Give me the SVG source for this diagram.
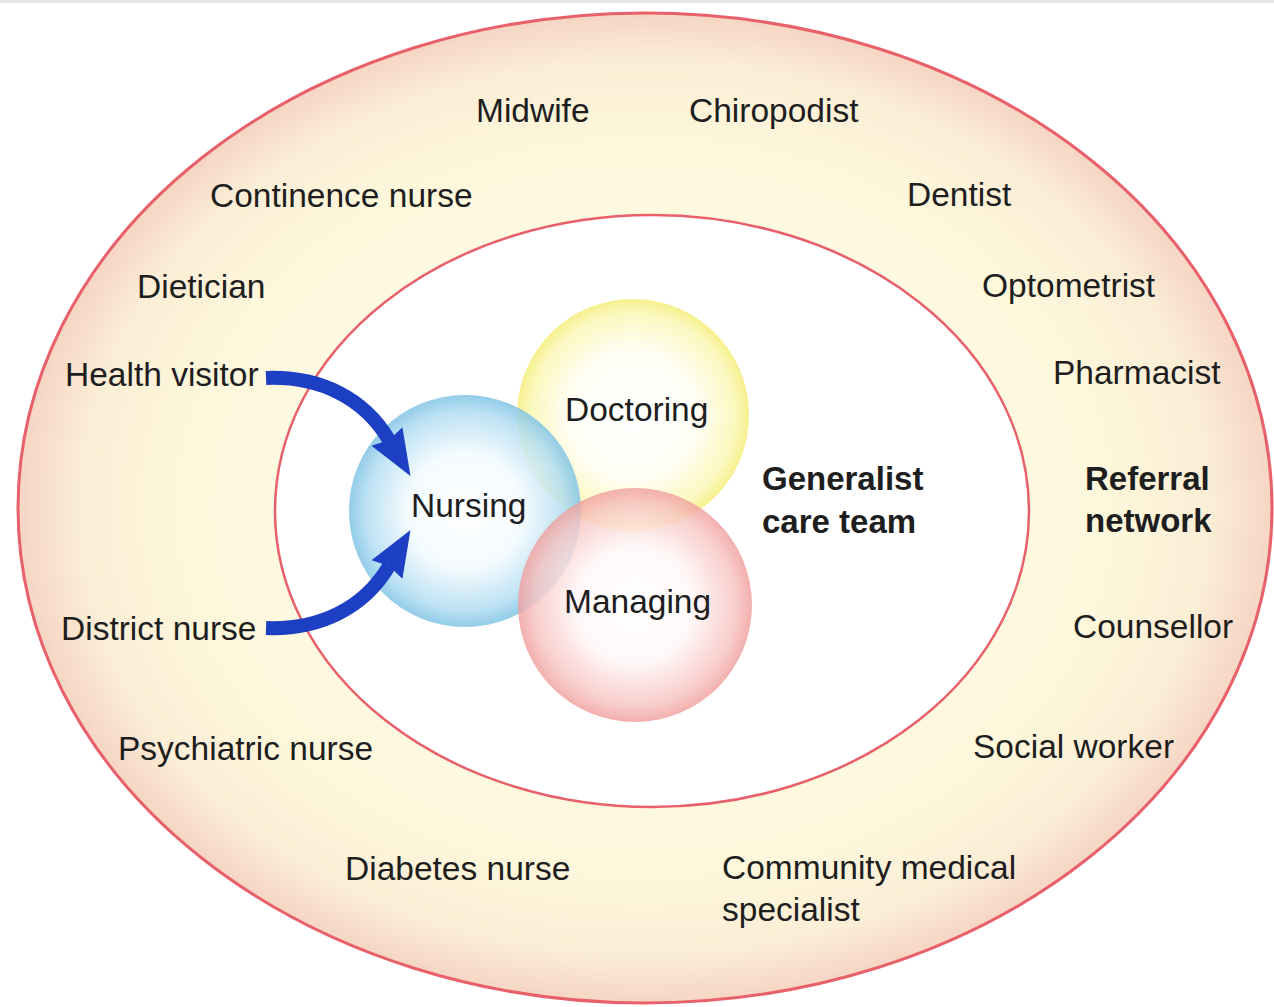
<svg xmlns="http://www.w3.org/2000/svg" width="1274" height="1007" viewBox="0 0 1274 1007">
<defs>
<radialGradient id="gOuter" cx="0.5" cy="0.5" r="0.5">
<stop offset="0" stop-color="#fffdf0"/>
<stop offset="0.72" stop-color="#fdf8dc"/>
<stop offset="0.9" stop-color="#fbeed6"/>
<stop offset="1" stop-color="#f6d5c4"/>
</radialGradient>
<radialGradient id="gBlue" cx="0.5" cy="0.5" r="0.5">
<stop offset="0" stop-color="#ffffff"/>
<stop offset="0.5" stop-color="#f2fafe"/>
<stop offset="0.85" stop-color="#b2ddf2"/>
<stop offset="1" stop-color="#80c3e5"/>
</radialGradient>
<radialGradient id="gYellow" cx="0.5" cy="0.5" r="0.5">
<stop offset="0" stop-color="#ffffff"/>
<stop offset="0.55" stop-color="#fffef4"/>
<stop offset="0.88" stop-color="#fbf7b8"/>
<stop offset="1" stop-color="#f5ee80"/>
</radialGradient>
<radialGradient id="gRed" cx="0.5" cy="0.5" r="0.5">
<stop offset="0" stop-color="#ffffff"/>
<stop offset="0.5" stop-color="#fff6f6"/>
<stop offset="0.85" stop-color="#f7c4c2"/>
<stop offset="1" stop-color="#ef9f9e"/>
</radialGradient>
<marker id="head" markerUnits="userSpaceOnUse" markerWidth="48" markerHeight="38" refX="4" refY="19" orient="auto" viewBox="0 0 48 38">
<path d="M0,1 L46,19 L0,37 L4,19 z" fill="#1d3fc4"/>
</marker>
<style>
.t{font-family:"Liberation Sans",Arial,sans-serif;font-size:33.5px;fill:#1e1e1e}
.b{font-family:"Liberation Sans",Arial,sans-serif;font-size:33px;font-weight:bold;fill:#1e1e1e}
.ring{stroke:#e8606a;stroke-width:3}
.arr{fill:none;stroke:#1d3fc4;stroke-width:14;marker-end:url(#head)}
</style>
</defs>
<rect x="0" y="0" width="1274" height="1007" fill="#ffffff"/>
<rect x="0" y="0" width="1274" height="3" fill="#e6e6e6"/>

<g id="referral-network">
<ellipse cx="645" cy="508" rx="627" ry="495" fill="url(#gOuter)" class="ring"/>
<text class="b" x="1085" y="490">Referral</text>
<text class="b" x="1085" y="532">network</text>
</g>
<g id="generalist-care-team">
<ellipse cx="652" cy="511" rx="377" ry="296" fill="#ffffff" class="ring" style="stroke-width:2.5"/>
<text class="b" x="762" y="490">Generalist</text>
<text class="b" x="762" y="533">care team</text>
</g>

<g id="doctoring">
<circle cx="633" cy="415" r="116" fill="url(#gYellow)" opacity="0.9"/>
<text class="t" x="565" y="421">Doctoring</text>
</g>
<g id="nursing">
<circle cx="465" cy="511" r="116" fill="url(#gBlue)" opacity="0.85"/>
</g>
<g id="managing">
<circle cx="635" cy="605" r="117" fill="url(#gRed)" opacity="0.82"/>
<text class="t" x="564" y="613">Managing</text>
</g>
<text class="t" x="411" y="517">Nursing</text>

<g id="midwife"><text class="t" x="476" y="122">Midwife</text></g>
<g id="chiropodist"><text class="t" x="689" y="122">Chiropodist</text></g>
<g id="continence-nurse"><text class="t" x="210" y="207">Continence nurse</text></g>
<g id="dentist"><text class="t" x="907" y="206">Dentist</text></g>
<g id="dietician"><text class="t" x="137" y="298">Dietician</text></g>
<g id="optometrist"><text class="t" x="982" y="297">Optometrist</text></g>
<g id="health-visitor"><text class="t" x="65" y="386">Health visitor</text></g>
<g id="pharmacist"><text class="t" x="1053" y="384">Pharmacist</text></g>
<g id="district-nurse"><text class="t" x="61" y="640">District nurse</text></g>
<g id="counsellor"><text class="t" x="1073" y="638">Counsellor</text></g>
<g id="psychiatric-nurse"><text class="t" x="118" y="760">Psychiatric nurse</text></g>
<g id="social-worker"><text class="t" x="973" y="758">Social worker</text></g>
<g id="diabetes-nurse"><text class="t" x="345" y="880">Diabetes nurse</text></g>
<g id="community-medical-specialist">
<text class="t" x="722" y="879">Community medical</text>
<text class="t" x="722" y="921">specialist</text>
</g>

<g id="connectors">
<path class="arr" d="M266,378 C320,376 364,398 389,440"/>
<path class="arr" d="M266,628 C320,630 364,608 389,566"/>
</g>
</svg>
